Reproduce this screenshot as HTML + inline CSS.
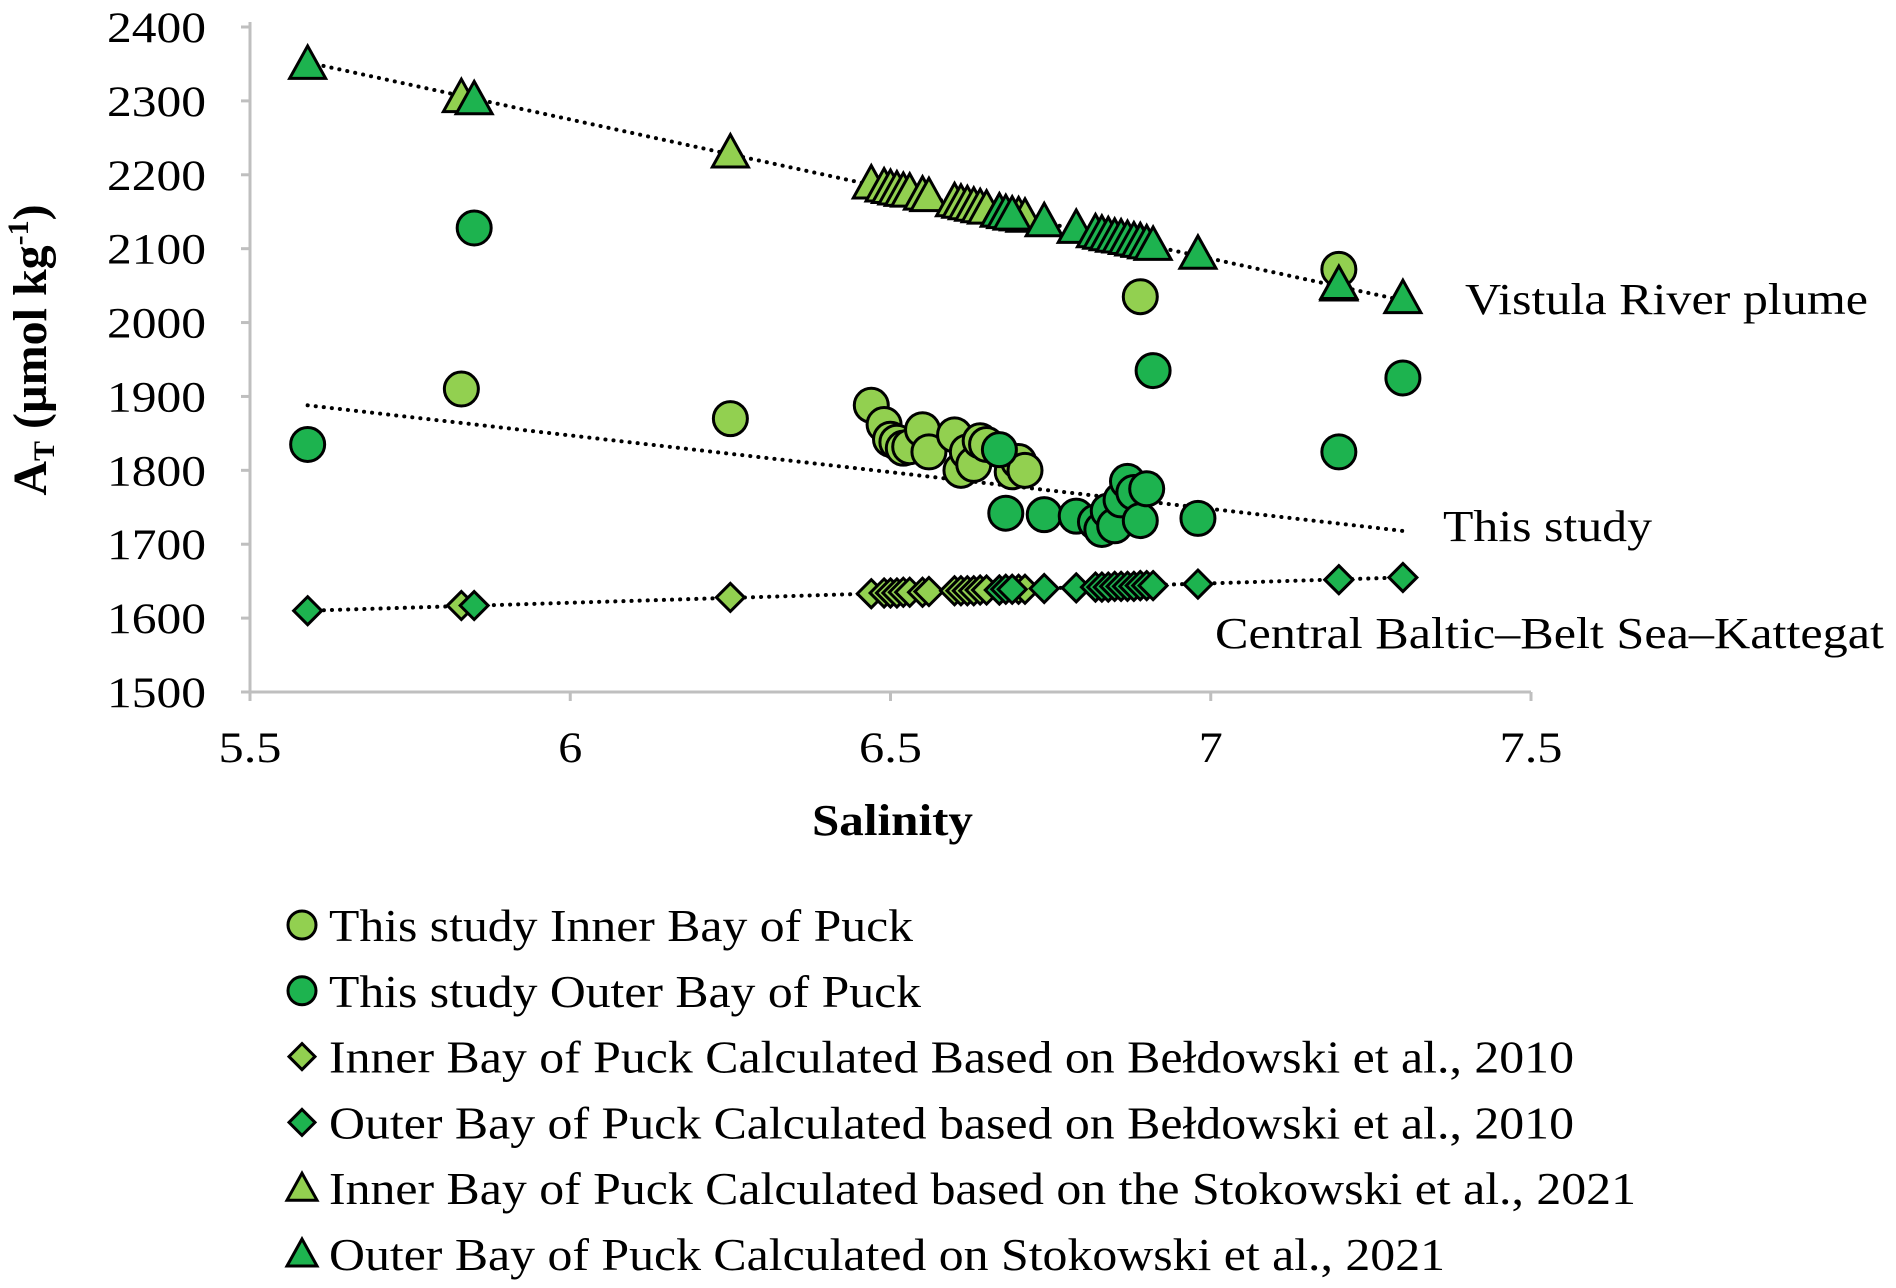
<!DOCTYPE html>
<html><head><meta charset="utf-8"><style>
html,body{margin:0;padding:0;background:#fff;}
svg{display:block;font-family:"Liberation Serif",serif;}
</style></head><body>
<svg id="chart" width="1896" height="1288" viewBox="0 0 1896 1288" xmlns="http://www.w3.org/2000/svg">
<g id="axes"></g>
<g id="lines"></g>
<g id="marks"></g>
<g id="labels">
<text x="1465" y="314" font-size="44" textLength="403" lengthAdjust="spacingAndGlyphs">Vistula River plume</text>
<text x="1443" y="541" font-size="44" textLength="209" lengthAdjust="spacingAndGlyphs">This study</text>
<text x="1215" y="648" font-size="44" textLength="669" lengthAdjust="spacingAndGlyphs">Central Baltic–Belt Sea–Kattegat</text>
<text x="812" y="835" font-size="44" font-weight="bold" textLength="161" lengthAdjust="spacingAndGlyphs">Salinity</text>
<text transform="translate(46,350) rotate(-90)" font-size="48" font-weight="bold" text-anchor="middle">A<tspan font-size="30" dy="8">T</tspan><tspan dy="-8"> (µmol kg</tspan><tspan font-size="30" dy="-18">-1</tspan><tspan dy="18">)</tspan></text>
</g>
<g id="legend"></g>
</svg>
<script>
const xTicks=[5.5,6,6.5,7,7.5];
const yTicks=[1500,1600,1700,1800,1900,2000,2100,2200,2300,2400];
const innerCircS=[5.83,6.25,6.47,6.49,6.50,6.51,6.52,6.53,6.55,6.56,6.60,6.61,6.62,6.63,6.64,6.65,6.69,6.70,6.71,6.89,7.20];
const innerCircA=[1910,1870,1888,1862,1842,1838,1830,1832,1855,1825,1848,1800,1825,1808,1840,1835,1798,1812,1800,2035,2072];
const outerCircS=[5.59,5.85,6.67,6.68,6.74,6.79,6.82,6.83,6.84,6.85,6.86,6.87,6.88,6.89,6.90,6.91,6.98,7.20,7.30];
const outerCircA=[1835,2128,1828,1742,1740,1738,1730,1720,1745,1725,1760,1785,1770,1732,1775,1935,1735,1825,1925];
const innerS=[5.83,6.25,6.47,6.49,6.50,6.51,6.52,6.53,6.55,6.56,6.60,6.61,6.62,6.63,6.64,6.65,6.67,6.70,6.71,6.89,7.20];
const outerS=[5.59,5.85,6.67,6.68,6.69,6.74,6.79,6.82,6.83,6.84,6.85,6.86,6.87,6.88,6.89,6.90,6.91,6.98,7.20,7.30];
const innerDiaA=[1617,1628,1633,1634,1634,1634,1635,1635,1635,1636,1637,1637,1637,1637,1638,1638,1638,1639,1639,1644,1652];
const outerDiaA=[1610,1617,1638,1639,1639,1640,1641,1642,1642,1642,1643,1643,1643,1643,1644,1644,1644,1646,1652,1655];
const innerTriA=[2305,2230,2188,2184,2182,2180,2178,2177,2173,2171,2164,2162,2160,2158,2156,2154,2150,2145,2143,2110,2050];
const outerTriA=[2350,2302,2150,2148,2146,2137,2128,2122,2120,2118,2116,2115,2113,2111,2109,2107,2105,2093,2052,2033];
const trendS=[5.59,7.30];
const trendTri=[2352,2030];
const trendCirc=[1888,1718];
const trendDia=[1610,1655];
const legendLabels=["This study Inner Bay of Puck","This study Outer Bay of Puck","Inner Bay of Puck Calculated Based on Bełdowski et al., 2010","Outer Bay of Puck Calculated based on Bełdowski et al., 2010","Inner Bay of Puck Calculated based on the Stokowski et al., 2021","Outer Bay of Puck Calculated on Stokowski et al., 2021"];
const legendWidths=[584,592,1245,1245,1307,1116];

const NS="http://www.w3.org/2000/svg";
const X0=250,X1=1531,Y0=692,Y1=27;
function xs(s){return X0+(s-5.5)/2*(X1-X0);}
function ys(v){return Y0-(v-1500)/900*(Y0-Y1);}
function mk(tag,attrs,parent){const e=document.createElementNS(NS,tag);for(const k in attrs)e.setAttribute(k,attrs[k]);parent.appendChild(e);return e;}
const LIGHT="#92d050",DARK="#1db34f";
const axes=document.getElementById('axes');
let ax=mk('line',{x1:X0,y1:Y1-5,x2:X0,y2:Y0,stroke:"#bfbfbf","stroke-width":3},axes);


ax=mk('line',{x1:X0,y1:Y0,x2:X1,y2:Y0,stroke:"#bfbfbf","stroke-width":3},axes);


yTicks.forEach(v=>{
  const t=mk('line',{x1:X0-9,x2:X0,y1:ys(v),y2:ys(v),stroke:"#bfbfbf","stroke-width":3},axes);
  
  
  const l=mk('text',{x:107,y:ys(v)+15,"font-size":43,textLength:99,lengthAdjust:"spacingAndGlyphs"},axes);
  l.textContent=v;
  
  
});
xTicks.forEach(s=>{
  const t=mk('line',{x1:xs(s),x2:xs(s),y1:Y0,y2:Y0+9,stroke:"#bfbfbf","stroke-width":3},axes);
  
  
  const str=String(s);
  const w=str.length>1?63:24;
  const l=mk('text',{x:xs(s)-w/2,y:Y0+70,"font-size":43,textLength:w,lengthAdjust:"spacingAndGlyphs"},axes);
  l.textContent=str;
  
  
});
const lines=document.getElementById('lines');
[[trendTri,'trend-stokowski'],[trendCirc,'trend-this-study'],[trendDia,'trend-beldowski']].forEach(([a,n])=>{
  const l=mk('line',{x1:xs(trendS[0]),y1:ys(a[0]),x2:xs(trendS[1]),y2:ys(a[1]),stroke:"#000","stroke-width":4,"stroke-dasharray":"0.1 8","stroke-linecap":"round"},lines);
  
  
});
function circle(cx,cy,fill,r,p){return mk('circle',{cx:cx,cy:cy,r:r,fill:fill,stroke:"#000","stroke-width":3},p);}
function diamond(cx,cy,fill,h,p){return mk('polygon',{points:`${cx},${cy-h} ${cx+h},${cy} ${cx},${cy+h} ${cx-h},${cy}`,fill:fill,stroke:"#000","stroke-width":3},p);}
function tri(cx,cy,fill,h,p){return mk('polygon',{points:`${cx},${cy-h} ${cx+h},${cy+h*0.8} ${cx-h},${cy+h*0.8}`,fill:fill,stroke:"#000","stroke-width":3},p);}
const marks=document.getElementById('marks');
innerCircS.forEach((s,i)=>{const e=circle(xs(s),ys(innerCircA[i]),LIGHT,17,marks);
  
  });
outerCircS.forEach((s,i)=>{const e=circle(xs(s),ys(outerCircA[i]),DARK,17,marks);
  
  });
innerS.forEach((s,i)=>{const e=diamond(xs(s),ys(innerDiaA[i]),LIGHT,14,marks);
  
  });
outerS.forEach((s,i)=>{const e=diamond(xs(s),ys(outerDiaA[i]),DARK,14,marks);
  
  });
innerS.forEach((s,i)=>{const e=tri(xs(s),ys(innerTriA[i]),LIGHT,18,marks);
  
  });
outerS.forEach((s,i)=>{const e=tri(xs(s),ys(outerTriA[i]),DARK,18,marks);
  
  });
const leg=document.getElementById('legend');
const shapes=[circle,circle,diamond,diamond,tri,tri];
const fills=[LIGHT,DARK,LIGHT,DARK,LIGHT,DARK];
const sizes=[14,14,13,13,15,15];
legendLabels.forEach((lab,i)=>{
  const y=925+i*65.8;
  const m=shapes[i](302,y,fills[i],sizes[i],leg);
  
  
  const t=mk('text',{x:329,y:y+16,"font-size":46,textLength:legendWidths[i],lengthAdjust:"spacingAndGlyphs"},leg);
  t.textContent=lab;
  
  
});
</script>
</body></html>
